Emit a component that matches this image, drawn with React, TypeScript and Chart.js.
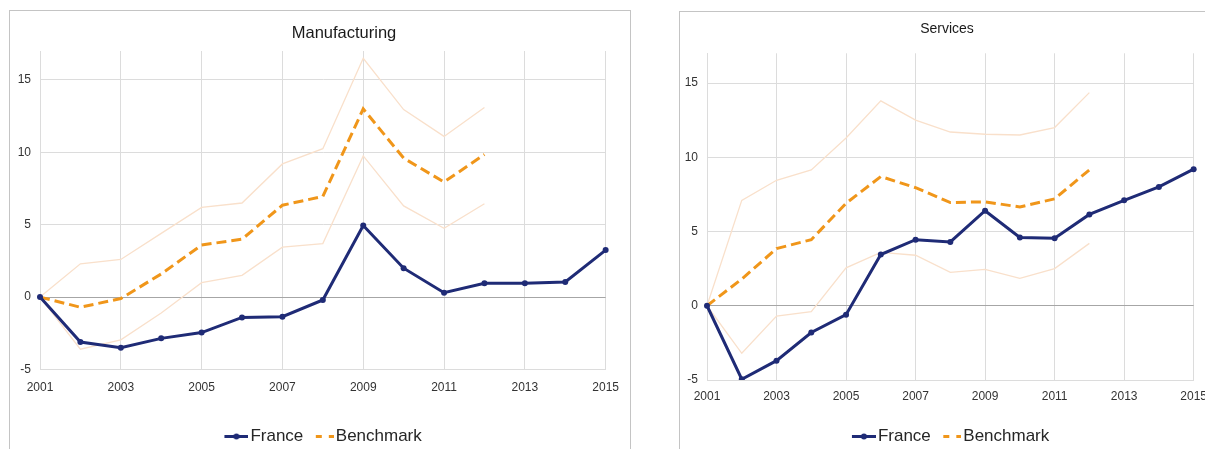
import React, { useEffect, useRef } from 'react';
import { Chart, registerables } from 'chart.js';

Chart.register(...registerables);

const years = ['2001', '2002', '2003', '2004', '2005', '2006', '2007', '2008', '2009', '2010', '2011', '2012', '2013', '2014', '2015'];
const yTickValues = [-5, 0, 5, 10, 15];

const manufFrance = [0, -3.1, -3.5, -2.85, -2.45, -1.4, -1.35, -0.2, 4.95, 2.0, 0.3, 0.95, 0.95, 1.05, 3.25];
const manufBenchmark = [0, -0.7, -0.1, 1.6, 3.6, 4.0, 6.35, 6.95, 13.0, 9.6, 7.95, 9.85, null, null, null];
const manufUpper = [0, 2.3, 2.6, 4.4, 6.2, 6.5, 9.2, 10.25, 16.5, 12.95, 11.1, 13.1, null, null, null];
const manufLower = [0, -3.6, -2.95, -1.1, 1.0, 1.5, 3.45, 3.7, 9.75, 6.3, 4.75, 6.45, null, null, null];

const servFrance = [0, -4.95, -3.7, -1.8, -0.6, 3.45, 4.45, 4.3, 6.4, 4.6, 4.55, 6.15, 7.1, 8.0, 9.2];
const servBenchmark = [0, 1.8, 3.85, 4.45, 6.9, 8.7, 7.95, 6.95, 7.0, 6.65, 7.2, 9.15, null, null, null];
const servUpper = [0, 7.1, 8.45, 9.15, 11.3, 13.8, 12.5, 11.7, 11.55, 11.5, 12.0, 14.35, null, null, null];
const servLower = [0, -3.2, -0.7, -0.4, 2.55, 3.6, 3.4, 2.25, 2.45, 1.85, 2.5, 4.2, null, null, null];

const seriesNames = ['France', 'Benchmark'];

const NAVY = '#1f2b76';
const ORANGE = '#f0961a';
const BAND = '#f9e0cb';
const GRID = '#dcdcdc';
const ZERO = '#a6a6a6';
const FONT = '"Liberation Sans", Arial, sans-serif';

Chart.defaults.font.family = FONT;

function makeIcon(kind: string) {
  const c = document.createElement('canvas');
  c.width = 31;
  c.height = 17;
  const g = c.getContext('2d') as CanvasRenderingContext2D;
  const cy = 8.5;
  g.lineWidth = 3;
  if (kind === 'france') {
    g.strokeStyle = NAVY;
    g.beginPath();
    g.moveTo(7, cy);
    g.lineTo(31, cy);
    g.stroke();
    g.fillStyle = NAVY;
    g.beginPath();
    g.arc(19, cy, 3, 0, Math.PI * 2);
    g.fill();
  } else {
    g.strokeStyle = ORANGE;
    g.beginPath();
    g.moveTo(13, cy);
    g.lineTo(19, cy);
    g.moveTo(26, cy);
    g.lineTo(31, cy);
    g.stroke();
  }
  return c;
}

type Spec = {
  x: number; y: number; w: number; h: number;
  padTop: number; padRight: number; yWidth: number; xHeight: number; xPad: number;
  france: (number | null)[]; bench: (number | null)[]; upper: (number | null)[]; lower: (number | null)[];
};

function Panel({ spec }: { spec: Spec }) {
  const ref = useRef<HTMLCanvasElement | null>(null);
  useEffect(() => {
    const franceIcon = makeIcon('france');
    const benchIcon = makeIcon('bench');
    const chart = new Chart(ref.current as HTMLCanvasElement, {
      type: 'line',
      data: {
        labels: years,
        datasets: [
          {
            label: seriesNames[0], data: spec.france, borderColor: NAVY, backgroundColor: NAVY,
            borderWidth: 3, pointRadius: 3, pointBackgroundColor: NAVY, pointBorderWidth: 0, tension: 0,
          },
          {
            label: seriesNames[1], data: spec.bench, borderColor: ORANGE, borderWidth: 3,
            borderDash: [10, 5], pointRadius: 0, tension: 0,
          },
          { label: 'upper', data: spec.upper, borderColor: BAND, borderWidth: 1.3, pointRadius: 0, tension: 0 },
          { label: 'lower', data: spec.lower, borderColor: BAND, borderWidth: 1.3, pointRadius: 0, tension: 0 },
        ],
      },
      options: {
        animation: false,
        responsive: false,
        devicePixelRatio: 1,
        layout: { padding: { top: spec.padTop, right: spec.padRight, left: 0, bottom: 0 } },
        plugins: {
          title: { display: false },
          tooltip: { enabled: false },
          legend: {
            position: 'bottom',
            fullSize: false,
            labels: {
              usePointStyle: true,
              pointStyleWidth: 18,
              padding: 6,
              color: '#262626',
              font: { size: 17, family: FONT },
              generateLabels: () => [
                { text: seriesNames[0], pointStyle: franceIcon, datasetIndex: 0, hidden: false, lineWidth: 0, fillStyle: NAVY, strokeStyle: NAVY, fontColor: '#262626' },
                { text: seriesNames[1], pointStyle: benchIcon, datasetIndex: 1, hidden: false, lineWidth: 0, fillStyle: ORANGE, strokeStyle: ORANGE, fontColor: '#262626' },
              ] as any,
            },
          },
        },
        scales: {
          x: {
            type: 'category',
            offset: false,
            grid: {
              color: (ctx: any) => (ctx.index % 2 === 0 ? GRID : 'rgba(0,0,0,0)'),
              drawTicks: false,
              lineWidth: 1,
            },
            border: { color: GRID },
            ticks: {
              autoSkip: false,
              maxRotation: 0,
              minRotation: 0,
              padding: spec.xPad,
              color: '#333333',
              font: { size: 12, family: FONT },
              callback: (_v: any, i: number) => (i % 2 === 0 ? years[i] : ''),
            },
            afterFit: (s: any) => { s.height = spec.xHeight; },
          },
          y: {
            type: 'linear',
            min: -5,
            max: 17,
            afterBuildTicks: (s: any) => { s.ticks = yTickValues.map((v) => ({ value: v })); },
            grid: {
              color: (ctx: any) => (ctx.tick && ctx.tick.value === 0 ? ZERO : GRID),
              drawTicks: false,
              lineWidth: 1,
            },
            border: { color: GRID },
            ticks: {
              padding: 9,
              color: '#333333',
              font: { size: 12, family: FONT },
            },
            afterFit: (s: any) => { s.width = spec.yWidth; },
          },
        },
      } as any,
    });
    return () => chart.destroy();
  }, []);
  return (
    <canvas
      ref={ref}
      width={spec.w}
      height={spec.h}
      style={{ position: 'absolute', left: spec.x, top: spec.y, width: spec.w, height: spec.h }}
    />
  );
}

const leftSpec: Spec = {
  x: 10, y: 11, w: 620, h: 444, padTop: 40, padRight: 22.5, yWidth: 30, xHeight: 52.5, xPad: 11,
  france: manufFrance, bench: manufBenchmark, upper: manufUpper, lower: manufLower,
};
const rightSpec: Spec = {
  x: 680, y: 12, w: 536, h: 443, padTop: 41.3, padRight: 19, yWidth: 27, xHeight: 42, xPad: 9,
  france: servFrance, bench: servBenchmark, upper: servUpper, lower: servLower,
};

export default function App() {
  const titleStyle: React.CSSProperties = {
    position: 'absolute', width: 240, textAlign: 'center',
    color: '#1a1a1a', lineHeight: '20px', height: 20, fontFamily: FONT,
  };
  return (
    <div style={{ position: 'fixed', left: 0, top: 0, width: 1205, height: 449, overflow: 'hidden', background: '#ffffff' }}>
      <div style={{ position: 'absolute', left: 9, top: 10, width: 622, height: 470, border: '1px solid #c4c4c4', boxSizing: 'border-box' }} />
      <div style={{ position: 'absolute', left: 679, top: 11, width: 560, height: 470, border: '1px solid #c4c4c4', boxSizing: 'border-box' }} />
      <Panel spec={leftSpec} />
      <Panel spec={rightSpec} />
      <div style={{ ...titleStyle, left: 344 - 120, top: 22, fontSize: 16.5 }}>Manufacturing</div>
      <div style={{ ...titleStyle, left: 947 - 120, top: 18, fontSize: 14 }}>Services</div>
    </div>
  );
}
